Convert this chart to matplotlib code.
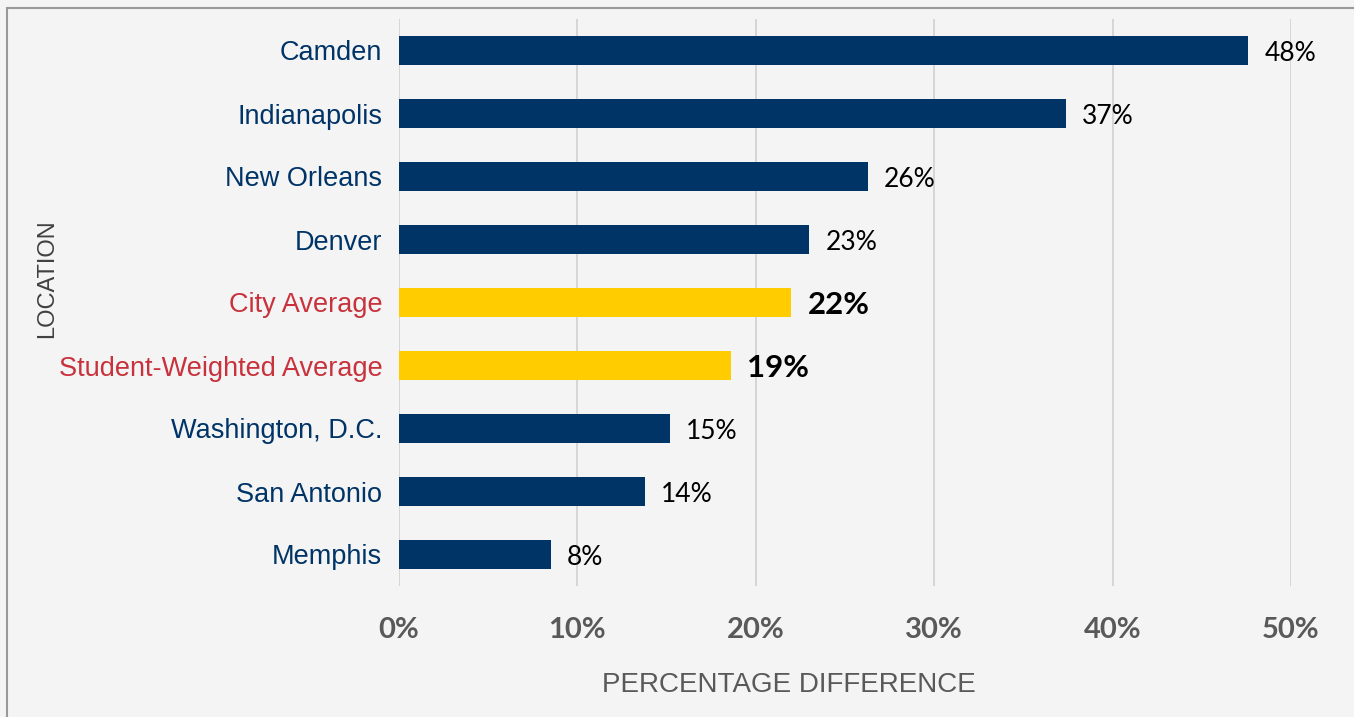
import matplotlib
matplotlib.use("Agg")
import matplotlib.pyplot as plt
from matplotlib.patches import Rectangle

categories = ["Camden", "Indianapolis", "New Orleans", "Denver", "City Average",
              "Student-Weighted Average", "Washington, D.C.", "San Antonio", "Memphis"]
values = [47.6, 37.4, 26.3, 23.0, 22.0, 18.6, 15.2, 13.8, 8.5]
labels = ["48%", "37%", "26%", "23%", "22%", "19%", "15%", "14%", "8%"]
highlight = [False, False, False, False, True, True, False, False, False]
xticks = [0, 10, 20, 30, 40, 50]
xticklabels = ["0%", "10%", "20%", "30%", "40%", "50%"]

NAVY = "#003366"
YELLOW = "#FFCC00"
RED = "#C8323C"
BG = "#F4F4F4"

fig = plt.figure(figsize=(13.54, 7.17), dpi=100, facecolor=BG)
fig.patches.append(Rectangle((7/1354, -0.1), 2, 1.1 - 8/717, transform=fig.transFigure,
                             fill=False, edgecolor="#999999", linewidth=1.5, zorder=0))
ax = fig.add_axes([399/1354, 1 - 586/717, (1291 - 399)/1354, (586 - 19)/717])
ax.set_facecolor("none")

ypos = list(range(len(categories)))
colors = [YELLOW if h else NAVY for h in highlight]
ax.barh(ypos, values, height=0.45, color=colors, zorder=3)
ax.set_ylim(len(categories) - 0.5, -0.5)
ax.set_xlim(0, 50)
ax.set_xticks(xticks)
ax.set_xticklabels(xticklabels, fontfamily="Lato", fontweight="bold", fontsize=21, color="#595959")
ax.tick_params(axis="x", length=0, pad=22)
ax.set_yticks(ypos)
ax.set_yticklabels(categories, fontfamily="Liberation Sans", fontsize=19.5)
for t, h in zip(ax.get_yticklabels(), highlight):
    t.set_color(RED if h else NAVY)
ax.tick_params(axis="y", length=0, pad=12)
ax.grid(axis="x", color="#D0D0D0", linewidth=1.2, zorder=0)
for s in ax.spines.values():
    s.set_visible(False)

for y, v, lab, h in zip(ypos, values, labels, highlight):
    if h:
        ax.text(v + 0.9, y + 0.04, lab, va="center", ha="left", fontfamily="Lato",
                fontweight="bold", fontsize=22.5, color="black")
    else:
        ax.text(v + 0.9, y + 0.04, lab, va="center", ha="left", fontfamily="Lato",
                fontsize=19, color="black")

fig.text(47/1354, 1 - 279/717, "LOCATION", rotation=90, ha="center", va="center",
         fontfamily="Liberation Sans", fontsize=17, color="#404040")
fig.text(789/1354, 1 - 685/717, "PERCENTAGE DIFFERENCE", ha="center", va="center",
         fontfamily="Liberation Sans", fontsize=20, color="#595959")

fig.savefig("out.png", dpi=100, facecolor=BG)
